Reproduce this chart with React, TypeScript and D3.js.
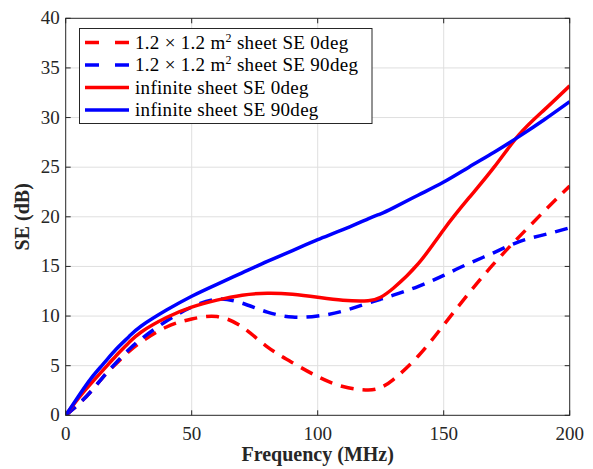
import React, { useRef, useEffect } from 'react';
import * as d3 from 'd3';

// frequency samples (MHz)
const freq = [0, 5, 10, 15, 20, 25, 30, 40, 50, 60, 70, 80, 90, 100, 110, 120, 125, 130, 140, 150, 160, 170, 180, 190, 200];

// SE (dB) per series
const sheet0 = [0, 1.1, 2.4, 3.9, 5.2, 6.4, 7.4, 8.9, 9.7, 9.95, 8.9, 6.9, 5.3, 3.9, 2.9, 2.55, 2.8, 3.6, 6.0, 9.1, 12.3, 15.3, 18.0, 20.6, 23.1];
const sheet90 = [0, 1.1, 2.4, 3.9, 5.3, 6.6, 7.7, 9.5, 10.9, 11.7, 11.3, 10.4, 9.9, 10.0, 10.5, 11.3, 11.7, 12.1, 13.0, 14.1, 15.3, 16.4, 17.5, 18.2, 18.9];
const inf0 = [0, 1.7, 3.2, 4.6, 6.0, 7.3, 8.4, 9.85, 10.9, 11.6, 12.1, 12.3, 12.2, 11.9, 11.6, 11.55, 11.9, 12.8, 15.3, 18.7, 21.9, 25.0, 28.3, 30.8, 33.2];
const inf90 = [0, 1.9, 3.7, 5.2, 6.65, 7.9, 9.0, 10.6, 12.0, 13.2, 14.35, 15.5, 16.6, 17.7, 18.7, 19.8, 20.3, 20.9, 22.2, 23.5, 25.0, 26.5, 28.1, 29.8, 31.6];

const xTicks = [0, 50, 100, 150, 200];
const yTicks = [0, 5, 10, 15, 20, 25, 30, 35, 40];

const series = [
  { name: '0', label: 'sheet SE 0deg', values: sheet0, color: '#ff0000', dashed: true },
  { name: '90', label: 'sheet SE 90deg', values: sheet90, color: '#0000ff', dashed: true },
  { name: 'i0', label: 'infinite sheet SE 0deg', values: inf0, color: '#ff0000', dashed: false },
  { name: 'i90', label: 'infinite sheet SE 90deg', values: inf90, color: '#0000ff', dashed: false },
];

const App = () => {
  const svgRef = useRef<SVGSVGElement>(null);
  const W = 593;
  const H = 469;
  const left = 65.7, right = 569.7, top = 18.3, bottom = 415.3;
  const font = '"Liberation Serif", "Times New Roman", serif';
  const axisColor = '#262626';

  useEffect(() => {
    const svg = d3.select(svgRef.current);
    svg.selectAll('*').remove();

    const x = d3.scaleLinear().domain([0, 200]).range([left, right]);
    const y = d3.scaleLinear().domain([0, 40]).range([bottom, top]);

    svg.append('rect')
      .attr('x', 0).attr('y', 0).attr('width', W).attr('height', H).attr('fill', 'white');

    // grid
    const grid = svg.append('g').attr('stroke', '#dfdfdf').attr('stroke-width', 1);
    xTicks.slice(1, -1).forEach(t => {
      grid.append('line').attr('x1', x(t)).attr('x2', x(t)).attr('y1', top).attr('y2', bottom);
    });
    yTicks.slice(1, -1).forEach(t => {
      grid.append('line').attr('x1', left).attr('x2', right).attr('y1', y(t)).attr('y2', y(t));
    });

    // curves
    const line = d3.line<number>()
      .x((_, i) => x(freq[i]))
      .y(d => y(d))
      .curve(d3.curveNatural);

    const clip = svg.append('clipPath').attr('id', 'plotclip');
    clip.append('rect').attr('x', left).attr('y', top).attr('width', right - left).attr('height', bottom - top);

    series.forEach(s => {
      svg.append('path')
        .attr('d', line(s.values))
        .attr('fill', 'none')
        .attr('stroke', s.color)
        .attr('stroke-width', 3.5)
        .attr('stroke-dasharray', s.dashed ? '13 9' : null)
        .attr('clip-path', 'url(#plotclip)');
    });

    // axes box
    svg.append('rect')
      .attr('x', left).attr('y', top).attr('width', right - left).attr('height', bottom - top)
      .attr('fill', 'none').attr('stroke', axisColor).attr('stroke-width', 1);

    const ticks = svg.append('g').attr('stroke', axisColor).attr('stroke-width', 1);
    const tl = 5;
    xTicks.forEach(t => {
      ticks.append('line').attr('x1', x(t)).attr('x2', x(t)).attr('y1', bottom).attr('y2', bottom - tl);
      ticks.append('line').attr('x1', x(t)).attr('x2', x(t)).attr('y1', top).attr('y2', top + tl);
    });
    yTicks.forEach(t => {
      ticks.append('line').attr('x1', left).attr('x2', left + tl).attr('y1', y(t)).attr('y2', y(t));
      ticks.append('line').attr('x1', right).attr('x2', right - tl).attr('y1', y(t)).attr('y2', y(t));
    });

    xTicks.forEach(t => {
      svg.append('text')
        .attr('x', x(t)).attr('y', bottom + 25)
        .attr('text-anchor', 'middle')
        .attr('font-family', font).attr('font-size', 19).attr('fill', axisColor)
        .text(t);
    });
    yTicks.forEach(t => {
      svg.append('text')
        .attr('x', left - 6).attr('y', y(t) + 6)
        .attr('text-anchor', 'end')
        .attr('font-family', font).attr('font-size', 19).attr('fill', axisColor)
        .text(t);
    });

    svg.append('text')
      .attr('x', (left + right) / 2).attr('y', 461)
      .attr('text-anchor', 'middle')
      .attr('font-family', font).attr('font-size', 20).attr('font-weight', 'bold').attr('fill', axisColor)
      .text('Frequency (MHz)');

    svg.append('text')
      .attr('transform', `translate(29,${(top + bottom) / 2}) rotate(-90)`)
      .attr('text-anchor', 'middle')
      .attr('font-family', font).attr('font-size', 20).attr('font-weight', 'bold').attr('fill', axisColor)
      .text('SE (dB)');

    // legend
    const lg = svg.append('g');
    lg.append('rect')
      .attr('x', 79.5).attr('y', 28.5).attr('width', 292.5).attr('height', 95)
      .attr('fill', 'white').attr('stroke', axisColor).attr('stroke-width', 1);

    series.forEach((s, i) => {
      const cy = 42.5 + i * 22.5;
      lg.append('line')
        .attr('x1', 85).attr('x2', 129).attr('y1', cy).attr('y2', cy)
        .attr('stroke', s.color).attr('stroke-width', 3.5)
        .attr('stroke-dasharray', s.dashed ? '14 16' : null);
      const txt = lg.append('text')
        .attr('x', 135).attr('y', cy + 6)
        .attr('font-family', font).attr('font-size', 19).attr('letter-spacing', 0.3)
        .attr('fill', 'black');
      if (s.dashed) {
        txt.append('tspan').text('1.2 \u00d7 1.2 m');
        txt.append('tspan').attr('dy', -7).attr('font-size', 12).text('2');
        txt.append('tspan').attr('dy', 7).text(' ' + s.label);
      } else {
        txt.text(s.label);
      }
    });
  }, []);

  return (
    <svg
      ref={svgRef}
      width={W}
      height={H}
      style={{ position: 'absolute', left: 0, top: 0 }}
    />
  );
};

export default App;
